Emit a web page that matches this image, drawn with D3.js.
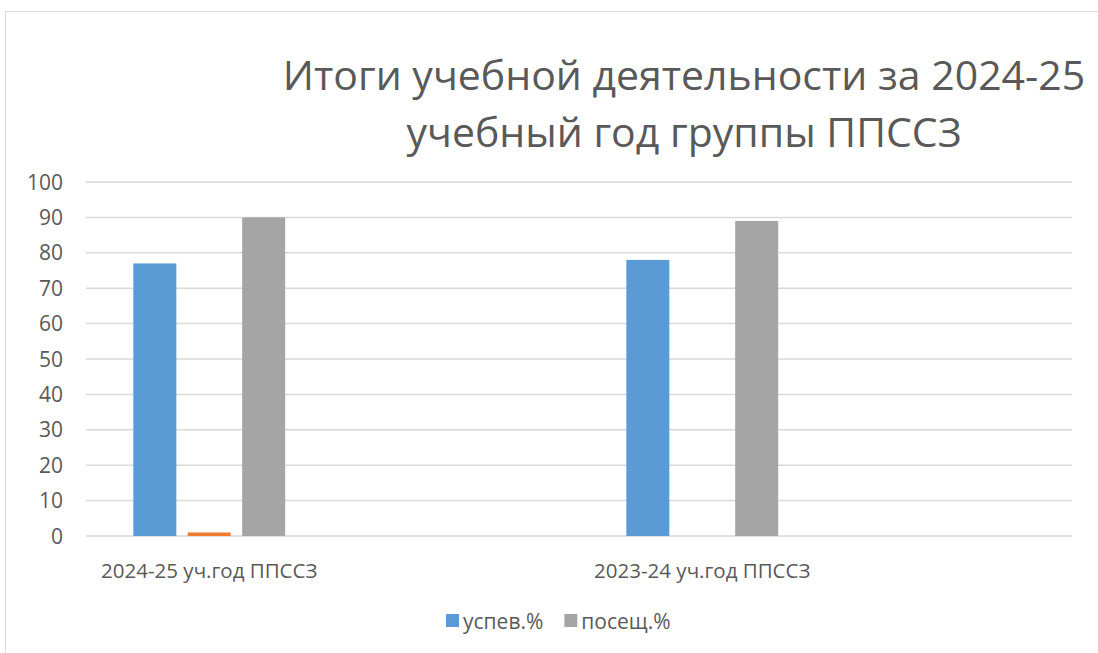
<!DOCTYPE html>
<html lang="ru">
<head>
<meta charset="utf-8">
<title>Итоги учебной деятельности</title>
<script src="https://cdn.jsdelivr.net/npm/d3@7"></script>
<style>
  html, body { margin: 0; padding: 0; background: #fff; }
  svg { display: block; font-family: "Open Sans", "Noto Sans", sans-serif; }
</style>
</head>
<body>
<div id="chart"></div>
<script>
'use strict';

// ─── Data ─────────────────────────────────────────────────────────────────────
const categories  = ['2024-25 уч.год ППССЗ', '2023-24 уч.год ППССЗ'];
const seriesNames = ['успев.%', 'ряд 2', 'посещ.%'];
const uspev       = [77, 78];
const series2     = [1, null];
const poseshch    = [90, 89];
const yTicks      = [0, 10, 20, 30, 40, 50, 60, 70, 80, 90, 100];
const titleLines  = ['Итоги учебной деятельности за 2024-25', 'учебный год группы ППССЗ'];
const legendItems = ['успев.%', 'посещ.%'];

const seriesValues = [uspev, series2, poseshch];
const colors = { 'успев.%': '#5b9bd5', 'ряд 2': '#ed7d31', 'посещ.%': '#a5a5a5' };

// ─── Layout ───────────────────────────────────────────────────────────────────
const W = 1098, H = 653;
const plot = { left: 86, right: 1072, top: 182, bottom: 536 };

const svg = d3.select('#chart').append('svg').attr('width', W).attr('height', H);

// chart frame (runs off the right/bottom edge of the picture)
svg.append('rect')
  .attr('x', 5.5).attr('y', 11.5)
  .attr('width', 1200).attr('height', 800)
  .attr('fill', '#fff').attr('stroke', '#d9d9d9').attr('stroke-width', 1);

// ─── Scales ───────────────────────────────────────────────────────────────────
const y = d3.scaleLinear().domain([0, 100]).range([plot.bottom, plot.top]);

const x0 = d3.scaleBand().domain(categories).range([plot.left, plot.right]);
// bars sit in the left part of each category slot
const x1 = d3.scaleBand().domain(seriesNames)
  .range([x0.bandwidth() * 0.096, x0.bandwidth() * 0.404])
  .paddingInner(0.21);
const groupMid = (x1.range()[0] + x1.range()[1]) / 2;

// ─── Grid + y labels ──────────────────────────────────────────────────────────
svg.append('g')
  .selectAll('line')
  .data(yTicks)
  .join('line')
  .attr('x1', plot.left).attr('x2', plot.right)
  .attr('y1', d => y(d)).attr('y2', d => y(d))
  .attr('stroke', '#d9d9d9').attr('stroke-width', 1.5);

svg.append('g')
  .selectAll('text')
  .data(yTicks)
  .join('text')
  .attr('x', 63).attr('y', d => y(d) + 7.5)
  .attr('text-anchor', 'end')
  .attr('font-size', 21)
  .attr('fill', '#595959')
  .text(d => d);

// ─── Bars ─────────────────────────────────────────────────────────────────────
const barData = [];
seriesNames.forEach((s, si) => {
  categories.forEach((c, ci) => {
    const v = seriesValues[si][ci];
    if (v != null) barData.push({ series: s, cat: c, value: v });
  });
});

svg.append('g')
  .selectAll('rect')
  .data(barData)
  .join('rect')
  .attr('x', d => x0(d.cat) + x1(d.series))
  .attr('y', d => y(d.value))
  .attr('width', x1.bandwidth())
  .attr('height', d => y(0) - y(d.value))
  .attr('fill', d => colors[d.series]);

// ─── Category labels ──────────────────────────────────────────────────────────
svg.append('g')
  .selectAll('text')
  .data(categories)
  .join('text')
  .attr('x', d => x0(d) + groupMid)
  .attr('y', 578)
  .attr('text-anchor', 'middle')
  .attr('font-size', 20.5)
  .attr('fill', '#595959')
  .text(d => d);

// ─── Title ────────────────────────────────────────────────────────────────────
svg.append('g')
  .selectAll('text')
  .data(titleLines)
  .join('text')
  .attr('x', 684)
  .attr('y', (d, i) => 90 + i * 57)
  .attr('text-anchor', 'middle')
  .attr('font-size', 41)
  .attr('fill', '#595959')
  .text(d => d);

// ─── Legend ───────────────────────────────────────────────────────────────────
const legend = svg.append('g').attr('transform', 'translate(446,614)');
let lx = 0;
legendItems.forEach(name => {
  const g = legend.append('g').attr('transform', `translate(${lx},0)`);
  g.append('rect').attr('width', 13).attr('height', 13).attr('fill', colors[name]);
  const t = g.append('text')
    .attr('x', 17).attr('y', 14.5)
    .attr('font-size', 21)
    .attr('fill', '#595959')
    .text(name);
  lx += 17 + t.node().getComputedTextLength() + 21;
});
</script>
</body>
</html>
